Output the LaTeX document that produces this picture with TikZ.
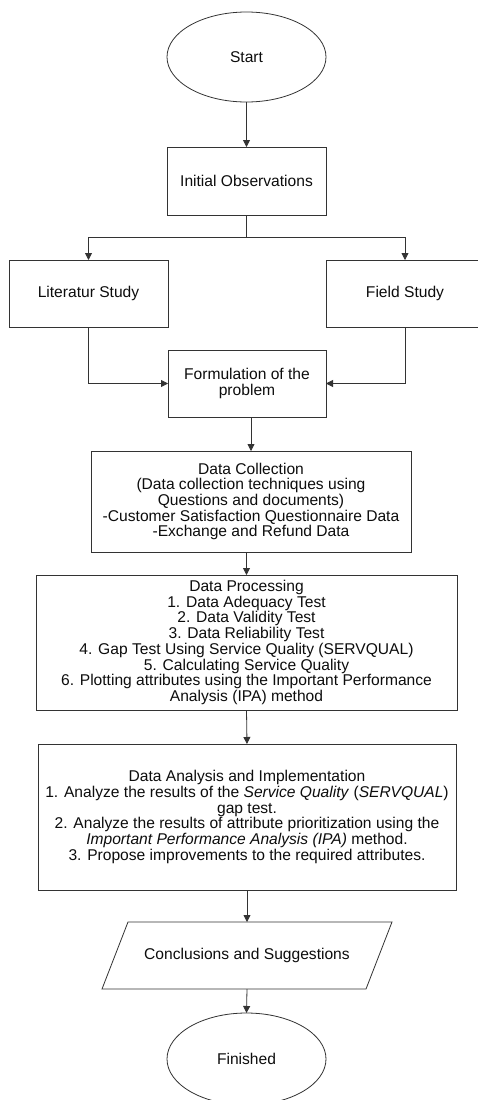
\documentclass[tikz,border=0pt]{standalone}
\usepackage{fontspec}
\setmainfont{Liberation Sans}
\usetikzlibrary{shapes.geometric,arrows.meta}
\begin{document}
\begin{tikzpicture}[x=1pt,y=-1pt,
  every node/.style={inner sep=0pt,outer sep=0pt,text=black!95,
    font=\fontsize{15.6}{15.7}\selectfont,align=center},
  boxnode/.style={draw=black!80,line width=0.8pt,rectangle},
  ovalnode/.style={draw=black!80,line width=0.8pt,ellipse,minimum width=159pt},
  ionode/.style={rectangle,minimum width=264pt,minimum height=67pt},
  conn/.style={draw=black!80,line width=0.8pt},
  arr/.style={conn,-{Triangle[length=7pt,width=7pt]}}]
\fill[white] (0,0) rectangle (478,1100);
\useasboundingbox (0,0) rectangle (478,1100);
\node[ovalnode,minimum height=90pt] (start) at (246.5,57) {Start};
\node[boxnode,minimum width=159pt,minimum height=68pt] (init) at (246.5,181) {Initial Observations};
\node[boxnode,minimum width=159pt,minimum height=67pt] (lit) at (88.5,293.5) {Literatur Study};
\node[boxnode,minimum width=158pt,minimum height=67pt] (field) at (405,293.5) {Field Study};
\node[boxnode,minimum width=158pt,minimum height=67pt] (form) at (247,383.5) {Formulation of the\\problem};
\node[boxnode,minimum width=320pt,minimum height=101pt] (coll) at (251,501.5) {Data Collection\\(Data collection techniques using\\Questions and documents)\\-Customer Satisfaction Questionnaire Data\\-Exchange and Refund Data};
\node[boxnode,minimum width=421pt,minimum height=135pt] (proc) at (246.5,642.5) {Data Processing\\1. Data Adequacy Test\\2. Data Validity Test\\3. Data Reliability Test\\4. Gap Test Using Service Quality (SERVQUAL)\\5. Calculating Service Quality\\6. Plotting attributes using the Important Performance\\Analysis (IPA) method};
\node[boxnode,minimum width=418pt,minimum height=146pt] (anal) at (247,817) {Data Analysis and Implementation\\1. Analyze the results of the \textit{Service Quality} (\textit{SERVQUAL})\\gap test.\\2. Analyze the results of attribute prioritization using the\\\textit{Important Performance Analysis (IPA)} method.\\3. Propose improvements to the required attributes.};
\node[ionode] (concl) at (247,955.5) {Conclusions and Suggestions};
\draw[conn] (102,989) -- (128,922) -- (392,922) -- (366,989) -- cycle;
\node[ovalnode,minimum height=92pt] (fin) at (246.5,1059) {Finished};
\coordinate (split) at (246.5,237);
\draw[arr] (start) -- (init);
\draw[arr] (init.south) -- (split) -| (lit.north);
\draw[arr] (split) -| (field.north);
\draw[arr] (lit.south) |- (form.west);
\draw[arr] (field.south) |- (form.east);
\draw[arr] (form.south -| coll.north) -- (coll.north);
\draw[arr] (coll.south -| proc.north) -- (proc.north);
\draw[arr] (proc.south) -- (anal.north);
\draw[arr] (anal.south) -- (concl.north);
\draw[arr] (concl.south) -- (fin.north);
\end{tikzpicture}
\end{document}
